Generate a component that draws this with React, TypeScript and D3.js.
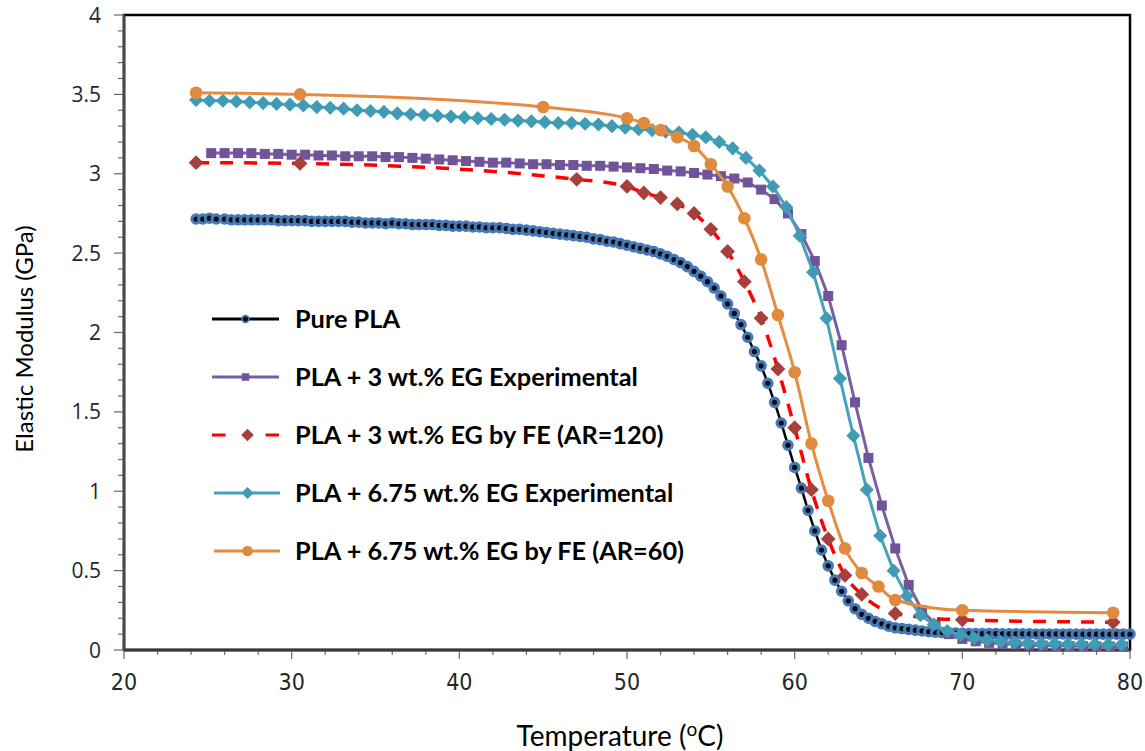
import React from 'react';
import * as d3 from 'd3';

// ---------- DATA ----------
const purePLA: [number, number][] = [
  [24.3, 2.715], [24.7, 2.715], [25.1, 2.72], [25.5, 2.715], [26.0, 2.715], [26.4, 2.71], [26.8, 2.71], [27.2, 2.71],
  [27.6, 2.71], [28.0, 2.71], [28.4, 2.71], [28.8, 2.71], [29.2, 2.705], [29.6, 2.705], [30.0, 2.705], [30.4, 2.705],
  [30.8, 2.705], [31.2, 2.7], [31.6, 2.7], [32.0, 2.7], [32.4, 2.7], [32.8, 2.7], [33.2, 2.7], [33.6, 2.695],
  [34.0, 2.695], [34.4, 2.69], [34.8, 2.69], [35.2, 2.69], [35.6, 2.685], [36.0, 2.69], [36.4, 2.685], [36.8, 2.685],
  [37.2, 2.68], [37.6, 2.68], [38.0, 2.68], [38.4, 2.68], [38.8, 2.675], [39.2, 2.675], [39.6, 2.67], [40.0, 2.67],
  [40.4, 2.67], [40.8, 2.665], [41.2, 2.665], [41.6, 2.66], [42.0, 2.66], [42.4, 2.66], [42.8, 2.655], [43.2, 2.65],
  [43.6, 2.65], [44.0, 2.645], [44.4, 2.64], [44.8, 2.635], [45.2, 2.63], [45.6, 2.625], [46.0, 2.62], [46.4, 2.615],
  [46.8, 2.61], [47.2, 2.605], [47.6, 2.6], [48.0, 2.59], [48.4, 2.585], [48.8, 2.575], [49.2, 2.57], [49.6, 2.56],
  [50.0, 2.55], [50.4, 2.54], [50.8, 2.53], [51.2, 2.52], [51.6, 2.51], [52.0, 2.495], [52.4, 2.48], [52.8, 2.46],
  [53.2, 2.44], [53.6, 2.415], [54.0, 2.385], [54.4, 2.355], [54.8, 2.32], [55.2, 2.28], [55.6, 2.23], [56.0, 2.18],
  [56.4, 2.12], [56.8, 2.05], [57.2, 1.97], [57.6, 1.88], [58.0, 1.79], [58.4, 1.68], [58.8, 1.56], [59.2, 1.43],
  [59.6, 1.29], [60.0, 1.15], [60.4, 1.02], [60.8, 0.88], [61.2, 0.75], [61.6, 0.63], [62.0, 0.53], [62.4, 0.44],
  [62.8, 0.37], [63.2, 0.31], [63.6, 0.26], [64.0, 0.225], [64.4, 0.2], [64.8, 0.18], [65.2, 0.165], [65.6, 0.15],
  [66.0, 0.14], [66.4, 0.135], [66.8, 0.13], [67.2, 0.125], [67.6, 0.12], [68.0, 0.115], [68.4, 0.112], [68.8, 0.11],
  [69.2, 0.108], [69.6, 0.106], [70.0, 0.105], [70.4, 0.104], [70.8, 0.104], [71.2, 0.103], [71.6, 0.103], [72.0, 0.103],
  [72.4, 0.102], [72.8, 0.102], [73.2, 0.102], [73.6, 0.102], [74.0, 0.102], [74.4, 0.101], [74.8, 0.101], [75.2, 0.101],
  [75.6, 0.101], [76.0, 0.101], [76.4, 0.1], [76.8, 0.1], [77.2, 0.1], [77.6, 0.1], [78.0, 0.1], [78.4, 0.1],
  [78.8, 0.1], [79.2, 0.1], [79.6, 0.1], [80.0, 0.1],
];

const pla3Exp: [number, number][] = [
  [25.2, 3.13], [26.0, 3.13], [26.8, 3.13], [27.6, 3.13], [28.4, 3.125], [29.2, 3.125], [30.0, 3.12], [30.8, 3.12],
  [31.6, 3.115], [32.4, 3.115], [33.2, 3.11], [34.0, 3.11], [34.8, 3.11], [35.6, 3.105], [36.4, 3.105], [37.2, 3.1],
  [38.0, 3.095], [38.8, 3.09], [39.6, 3.085], [40.4, 3.08], [41.2, 3.075], [42.0, 3.07], [42.8, 3.07], [43.6, 3.065],
  [44.4, 3.06], [45.2, 3.06], [46.0, 3.055], [46.8, 3.055], [47.6, 3.05], [48.4, 3.05], [49.2, 3.045], [50.0, 3.04],
  [50.8, 3.035], [51.6, 3.03], [52.4, 3.02], [53.2, 3.015], [54.0, 3.005], [54.8, 2.995], [55.6, 2.985], [56.4, 2.97],
  [57.2, 2.945], [58.0, 2.9], [58.8, 2.84], [59.6, 2.75], [60.4, 2.62], [61.2, 2.45], [62.0, 2.23], [62.8, 1.92],
  [63.6, 1.56], [64.4, 1.21], [65.2, 0.91], [66.0, 0.64], [66.8, 0.41], [67.6, 0.25], [68.4, 0.16], [69.2, 0.1],
  [70.0, 0.07], [70.8, 0.055], [71.6, 0.045], [72.4, 0.04], [73.2, 0.035], [74.0, 0.03], [74.8, 0.028], [75.6, 0.026],
  [76.4, 0.025], [77.2, 0.024], [78.0, 0.023], [78.8, 0.022], [79.6, 0.022],
];

const pla3FE: [number, number][] = [
  [24.3, 3.07], [30.5, 3.065], [47, 2.965], [50, 2.92], [51, 2.88], [52, 2.85], [53, 2.81], [54, 2.75],
  [55, 2.65], [56, 2.51], [57, 2.32], [58, 2.09], [59, 1.77], [60, 1.4], [61, 1.01], [62, 0.7],
  [63, 0.47], [64, 0.35], [66, 0.23], [70, 0.19], [79, 0.175],
];

const pla675Exp: [number, number][] = [
  [24.3, 3.465], [25.1, 3.46], [25.9, 3.46], [26.7, 3.455], [27.5, 3.45], [28.3, 3.445], [29.1, 3.44], [29.9, 3.435],
  [30.7, 3.43], [31.5, 3.42], [32.3, 3.415], [33.1, 3.41], [33.9, 3.4], [34.7, 3.395], [35.5, 3.39], [36.3, 3.38],
  [37.1, 3.375], [37.9, 3.37], [38.7, 3.365], [39.5, 3.36], [40.3, 3.355], [41.1, 3.35], [41.9, 3.345], [42.7, 3.34],
  [43.5, 3.335], [44.3, 3.33], [45.1, 3.325], [45.9, 3.32], [46.7, 3.32], [47.5, 3.315], [48.3, 3.31], [49.1, 3.3],
  [49.9, 3.29], [50.7, 3.28], [51.5, 3.275], [52.3, 3.265], [53.1, 3.26], [53.9, 3.245], [54.7, 3.23], [55.5, 3.2],
  [56.3, 3.16], [57.1, 3.1], [57.9, 3.02], [58.7, 2.92], [59.5, 2.79], [60.3, 2.61], [61.1, 2.38], [61.9, 2.09],
  [62.7, 1.71], [63.5, 1.35], [64.3, 1.01], [65.1, 0.72], [65.9, 0.5], [66.7, 0.34], [67.5, 0.22], [68.3, 0.16],
  [69.1, 0.12], [69.9, 0.095], [70.7, 0.075], [71.5, 0.062], [72.3, 0.052], [73.1, 0.047], [73.9, 0.043], [74.7, 0.04],
  [75.5, 0.04], [76.3, 0.038], [77.1, 0.037], [77.9, 0.036], [78.7, 0.035], [79.5, 0.035],
];

const pla675FE: [number, number][] = [
  [24.3, 3.51], [30.5, 3.5], [45, 3.42], [50, 3.35], [51, 3.32], [52, 3.275], [53, 3.23], [54, 3.175],
  [55, 3.06], [56, 2.92], [57, 2.72], [58, 2.46], [59, 2.11], [60, 1.75], [61, 1.3], [62, 0.94],
  [63, 0.64], [64, 0.485], [65, 0.4], [66, 0.315], [70, 0.25], [79, 0.235],
];

const seriesNames = [
  'Pure PLA',
  'PLA + 3 wt.% EG Experimental',
  'PLA + 3 wt.% EG by FE (AR=120)',
  'PLA + 6.75 wt.% EG Experimental',
  'PLA + 6.75 wt.% EG by FE (AR=60)',
];

const xTickValues = [20, 30, 40, 50, 60, 70, 80];
const yTickValues = [0, 0.5, 1, 1.5, 2, 2.5, 3, 3.5, 4];

const xTitle = 'Temperature (';
const xTitleSup = 'o';
const xTitleEnd = 'C)';
const yTitle = 'Elastic Modulus (GPa)';

// ---------- LAYOUT ----------
const W = 1145;
const H = 751;
const plot = { left: 124, right: 1130, top: 15, bottom: 650 };

type Marker = 'dot' | 'square' | 'diamond' | 'circle';
interface Series {
  name: string;
  data: [number, number][];
  color: string;
  width: number;
  dash?: string;
  smooth: boolean;
  marker: Marker;
  mfill: string;
  mstroke?: string;
  msw?: number;
  msize: number;
}

const series: Series[] = [
  { name: seriesNames[0], data: purePLA, color: '#000000', width: 2.5, smooth: false, marker: 'dot', mfill: '#0b0b0b', mstroke: '#4579b8', msw: 3.2, msize: 4.2 },
  { name: seriesNames[1], data: pla3Exp, color: '#7a5ea3', width: 3, smooth: false, marker: 'square', mfill: '#6f5499', msize: 10 },
  { name: seriesNames[2], data: pla3FE, color: '#ff0000', width: 3.5, dash: '13,11', smooth: true, marker: 'diamond', mfill: '#a5403d', msize: 10.5 },
  { name: seriesNames[3], data: pla675Exp, color: '#45a2ba', width: 3, smooth: false, marker: 'diamond', mfill: '#3f9cb4', msize: 10 },
  { name: seriesNames[4], data: pla675FE, color: '#e58c3f', width: 3, smooth: true, marker: 'circle', mfill: '#e08a3e', msize: 6.3 },
];

function MarkerShape({ m, cx, cy, scale = 1 }: { m: Series; cx: number; cy: number; scale?: number }) {
  const size = m.msize * scale;
  if (m.marker === 'dot' || m.marker === 'circle') {
    return <circle cx={cx} cy={cy} r={size} fill={m.mfill} stroke={m.mstroke ?? 'none'} strokeWidth={(m.msw ?? 0) * (m.marker === 'dot' && scale < 1 ? 0.5 : 1)} />;
  }
  if (m.marker === 'square') {
    return <rect x={cx - size / 2} y={cy - size / 2} width={size} height={size} fill={m.mfill} />;
  }
  const path = d3.symbol(d3.symbolSquare, size * size)() as string;
  return <path d={path} transform={`translate(${cx},${cy}) rotate(45)`} fill={m.mfill} />;
}

export default function App() {
  const x = d3.scaleLinear().domain([20, 80]).range([plot.left, plot.right]);
  const y = d3.scaleLinear().domain([0, 4]).range([plot.bottom, plot.top]);

  const xMinor = x.ticks(30);
  const yMinor = y.ticks(40);

  const lineStraight = d3.line<[number, number]>().x((d) => x(d[0])).y((d) => y(d[1]));
  const lineSmooth = d3
    .line<[number, number]>()
    .x((d) => x(d[0]))
    .y((d) => y(d[1]))
    .curve(d3.curveMonotoneX);

  const legendX0 = 212;
  const legendX1 = 279;
  const legendTextX = 295;
  const legendY0 = 319;
  const legendDY = 58;

  const font = 'Lato, "Open Sans", sans-serif';

  return (
    <svg width={W} height={H} style={{ position: 'absolute', left: 0, top: 0, background: '#fff' }}>
      <rect x={0} y={0} width={W} height={H} fill="#fff" />

      {/* frame */}
      <rect
        x={plot.left}
        y={plot.top}
        width={plot.right - plot.left}
        height={plot.bottom - plot.top}
        fill="none"
        stroke="#000"
        strokeWidth={2.5}
      />

      {/* y ticks */}
      {yMinor.map((v) => {
        const major = Math.abs(v * 2 - Math.round(v * 2)) < 1e-6;
        return (
          <line
            key={'ym' + v}
            x1={plot.left - (major ? 10 : 6)}
            x2={plot.left}
            y1={y(v)}
            y2={y(v)}
            stroke="#6b6b6b"
            strokeWidth={1.2}
          />
        );
      })}
      {yTickValues.map((v) => (
        <text
          key={'yl' + v}
          x={101}
          y={y(v) + 7.5}
          textAnchor="end"
          fontFamily='"Open Sans", sans-serif'
          fontSize={21}
          fill="#262626"
        >
          {d3.format('~g')(v)}
        </text>
      ))}

      {/* x ticks */}
      {xMinor.map((v) => {
        const major = v % 10 === 0;
        return (
          <line
            key={'xm' + v}
            x1={x(v)}
            x2={x(v)}
            y1={plot.bottom}
            y2={plot.bottom + (major ? 9 : 5)}
            stroke="#6b6b6b"
            strokeWidth={1.2}
          />
        );
      })}
      {xTickValues.map((v) => (
        <text
          key={'xl' + v}
          x={x(v)}
          y={690}
          textAnchor="middle"
          fontFamily='"Liberation Sans Narrow", "DejaVu Sans Condensed", sans-serif'
          fontSize={23}
          fill="#262626"
        >
          {v}
        </text>
      ))}

      {/* axis lines */}
      <line x1={plot.left} x2={plot.left} y1={plot.top} y2={plot.bottom} stroke="#4a4a4a" strokeWidth={2.8} />
      <line x1={plot.left} x2={plot.right} y1={plot.bottom} y2={plot.bottom} stroke="#3a3a3a" strokeWidth={2.8} />

      {/* series */}
      {series.map((s) => (
        <g key={s.name}>
          <path
            d={(s.smooth ? lineSmooth : lineStraight)(s.data) as string}
            fill="none"
            stroke={s.color}
            strokeWidth={s.width}
            strokeDasharray={s.dash}
            strokeLinejoin="round"
          />
          {s.data.map((d, i) => (
            <MarkerShape key={i} m={s} cx={x(d[0])} cy={y(d[1])} />
          ))}
        </g>
      ))}

      {/* legend */}
      {series.map((s, i) => {
        const ly = legendY0 + i * legendDY;
        const mid = (legendX0 + legendX1) / 2 + (i >= 2 ? 2 : 0);
        return (
          <g key={'lg' + i}>
            <line
              x1={legendX0 + (i >= 3 ? 2 : 0)}
              x2={legendX1 + (i >= 2 ? 1 : 0)}
              y1={ly}
              y2={ly}
              stroke={s.color}
              strokeWidth={3.2}
              strokeDasharray={s.dash ? '13.5,40' : undefined}
            />
            <MarkerShape m={s} cx={mid} cy={ly} scale={s.marker === 'dot' ? 0.8 : s.marker === 'square' ? 0.75 : 0.85} />
            <text x={legendTextX} y={ly + 8.5} fontFamily={font} fontWeight={700} fontSize={25.3} fill="#000">
              {s.name}
            </text>
          </g>
        );
      })}

      {/* axis titles */}
      <text
        transform={`translate(33,339) rotate(-90)`}
        textAnchor="middle"
        fontFamily={font}
        fontSize={24}
        fill="#000"
      >
        {yTitle}
      </text>
      <text x={620} y={746} textAnchor="middle" fontFamily={font} fontSize={28} fill="#000">
        {xTitle}
        <tspan dy={-10} fontSize={19}>
          {xTitleSup}
        </tspan>
        <tspan dy={10}>{xTitleEnd}</tspan>
      </text>
    </svg>
  );
}
